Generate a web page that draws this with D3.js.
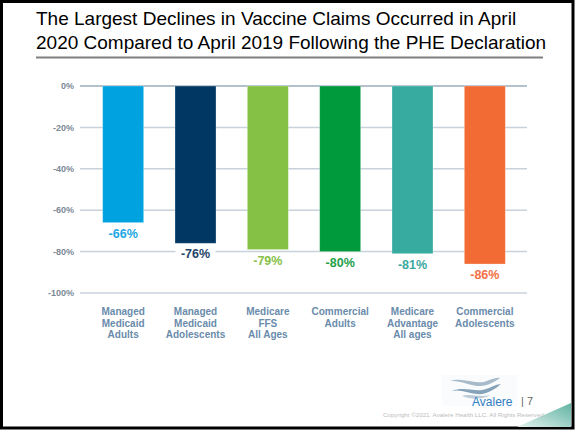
<!DOCTYPE html>
<html>
<head>
<meta charset="utf-8">
<style>
  body { margin: 0; background: #fff; }
  svg { display: block; font-family: "Liberation Sans", Arial, sans-serif; }
  .grid line { stroke: #c8d2dc; stroke-width: 1.5; }
  .ylab { font-size: 9px; font-weight: bold; fill: #7c8a98; }
  .cat { font-size: 10px; font-weight: bold; fill: #6a8bab; }
</style>
</head>
<body>
<svg id="chart" width="575" height="430"></svg>
<script src="https://d3js.org/d3.v7.min.js"></script>
<script>

var categories = [
  ["Managed", "Medicaid", "Adults"],
  ["Managed", "Medicaid", "Adolescents"],
  ["Medicare", "FFS", "All Ages"],
  ["Commercial", "Adults"],
  ["Medicare", "Advantage", "All ages"],
  ["Commercial", "Adolescents"]
];
var values = [-66, -76, -79, -80, -81, -86];
var barColors = ["#00a3e0", "#003863", "#84c144", "#009a3d", "#38aba0", "#f26b35"];
var labelColors = ["#1ea8e4", "#26456a", "#86c24a", "#22a049", "#3aa9a0", "#f37046"];
var yTicks = [0, -20, -40, -60, -80, -100];

var titleLines = [
  "The Largest Declines in Vaccine Claims Occurred in April",
  "2020 Compared to April 2019 Following the PHE Declaration"
];

var svg = d3.select("#chart");

// slide frame
svg.append("rect")
    .attr("x", 1.5).attr("y", 1.5)
    .attr("width", 571.5).attr("height", 426.5)
    .attr("fill", "none")
    .attr("stroke", "#000")
    .attr("stroke-width", 3);

// title
svg.append("g").selectAll("text")
  .data(titleLines)
  .enter().append("text")
    .attr("x", 36)
    .attr("y", function(d, i) { return 25 + i * 24; })
    .attr("font-size", 19)
    .attr("fill", "#000")
    .text(function(d) { return d; });

svg.append("line")
    .attr("x1", 36).attr("x2", 543)
    .attr("y1", 57.5).attr("y2", 57.5)
    .attr("stroke", "#7f7f7f")
    .attr("stroke-width", 2);

// chart
var x = d3.scaleBand()
    .domain(d3.range(values.length))
    .range([87, 521])
    .paddingInner(0.433)
    .paddingOuter(0.2165);

var y = d3.scaleLinear()
    .domain([0, -100])
    .range([86, 293]);

var grid = svg.append("g").attr("class", "grid");
grid.selectAll("line")
  .data(yTicks)
  .enter().append("line")
    .attr("x1", 80).attr("x2", 527)
    .attr("y1", function(d) { return y(d); })
    .attr("y2", function(d) { return y(d); })
    .style("stroke", function(d) { return d === 0 ? "#9aacbd" : null; });

svg.append("g").selectAll("text")
  .data(yTicks)
  .enter().append("text")
    .attr("class", "ylab")
    .attr("x", 74)
    .attr("y", function(d) { return y(d); })
    .attr("dy", "0.35em")
    .attr("text-anchor", "end")
    .text(function(d) { return d + "%"; });

svg.append("g").selectAll("rect")
  .data(values)
  .enter().append("rect")
    .attr("x", function(d, i) { return x(i); })
    .attr("y", y(0))
    .attr("width", x.bandwidth())
    .attr("height", function(d) { return y(d) - y(0); })
    .attr("fill", function(d, i) { return barColors[i]; })
    .attr("stroke", "#fff")
    .attr("stroke-opacity", 0.35)
    .attr("stroke-width", 0.8);

// value labels with white backing
var vl = svg.append("g").selectAll("g")
  .data(values)
  .enter().append("g")
    .attr("transform", function(d, i) {
      return "translate(" + (x(i) + x.bandwidth() / 2) + "," + (y(d) + 15) + ")";
    });

vl.append("rect")
    .attr("x", -20).attr("y", -11)
    .attr("width", 40).attr("height", 14)
    .attr("fill", "#fff");

vl.append("text")
    .attr("text-anchor", "middle")
    .attr("font-size", 12.5)
    .attr("font-weight", "bold")
    .attr("fill", function(d, i) { return labelColors[i]; })
    .text(function(d) { return d + "%"; });

// category labels
var cats = svg.append("g").selectAll("text")
  .data(categories)
  .enter().append("text")
    .attr("class", "cat")
    .attr("text-anchor", "middle")
    .attr("x", function(d, i) { return x(i) + x.bandwidth() / 2; })
    .attr("y", 315);

cats.selectAll("tspan")
  .data(function(d) { return d; })
  .enter().append("tspan")
    .attr("x", function() { return d3.select(this.parentNode).attr("x"); })
    .attr("dy", function(d, i) { return i === 0 ? 0 : 11.7; })
    .text(function(d) { return d; });

// footer: corner wedge
var grad = svg.append("defs").append("linearGradient")
    .attr("id", "wedge")
    .attr("x1", "0").attr("y1", "1").attr("x2", "1").attr("y2", "0");
grad.append("stop").attr("offset", "0").attr("stop-color", "#e4f2ee");
grad.append("stop").attr("offset", "1").attr("stop-color", "#5fb3a3");

svg.append("path")
    .attr("d", "M517,427 L571,403 L571,427 Z")
    .attr("fill", "url(#wedge)");

// footer: logo
var logo = svg.append("g");
logo.append("rect")
    .attr("x", 442).attr("y", 375)
    .attr("width", 75).attr("height", 31)
    .attr("fill", "#fafbfc");
logo.append("path")
    .attr("d", "M450,381 C462,377 474,384 484,382 C490,380 496,377 500,378 C494,382 488,386 480,386 C470,386 460,380 450,381 Z")
    .attr("fill", "#a7bbcb");
logo.append("path")
    .attr("d", "M452,391 C464,386 476,393 486,389 C492,387 497,384 501,384 C494,390 486,395 477,394 C468,393 460,389 452,391 Z")
    .attr("fill", "#86a2b8");
logo.append("path")
    .attr("d", "M462,396 C470,393 480,398 490,395 C484,399 474,400 462,396 Z")
    .attr("fill", "#bccbd7");

svg.append("text")
    .attr("x", 472).attr("y", 406)
    .attr("font-size", 12)
    .attr("fill", "#2f7fc2")
    .text("Avalere");
svg.append("text")
    .attr("x", 521).attr("y", 405)
    .attr("font-size", 11)
    .attr("fill", "#666")
    .text("| 7");

svg.append("text")
    .attr("x", 383).attr("y", 417)
    .attr("font-size", 6.2)
    .attr("fill", "#bdbdbd")
    .text("Copyright \u00a92021. Avalere Health LLC. All Rights Reserved.");

</script>
</body>
</html>
